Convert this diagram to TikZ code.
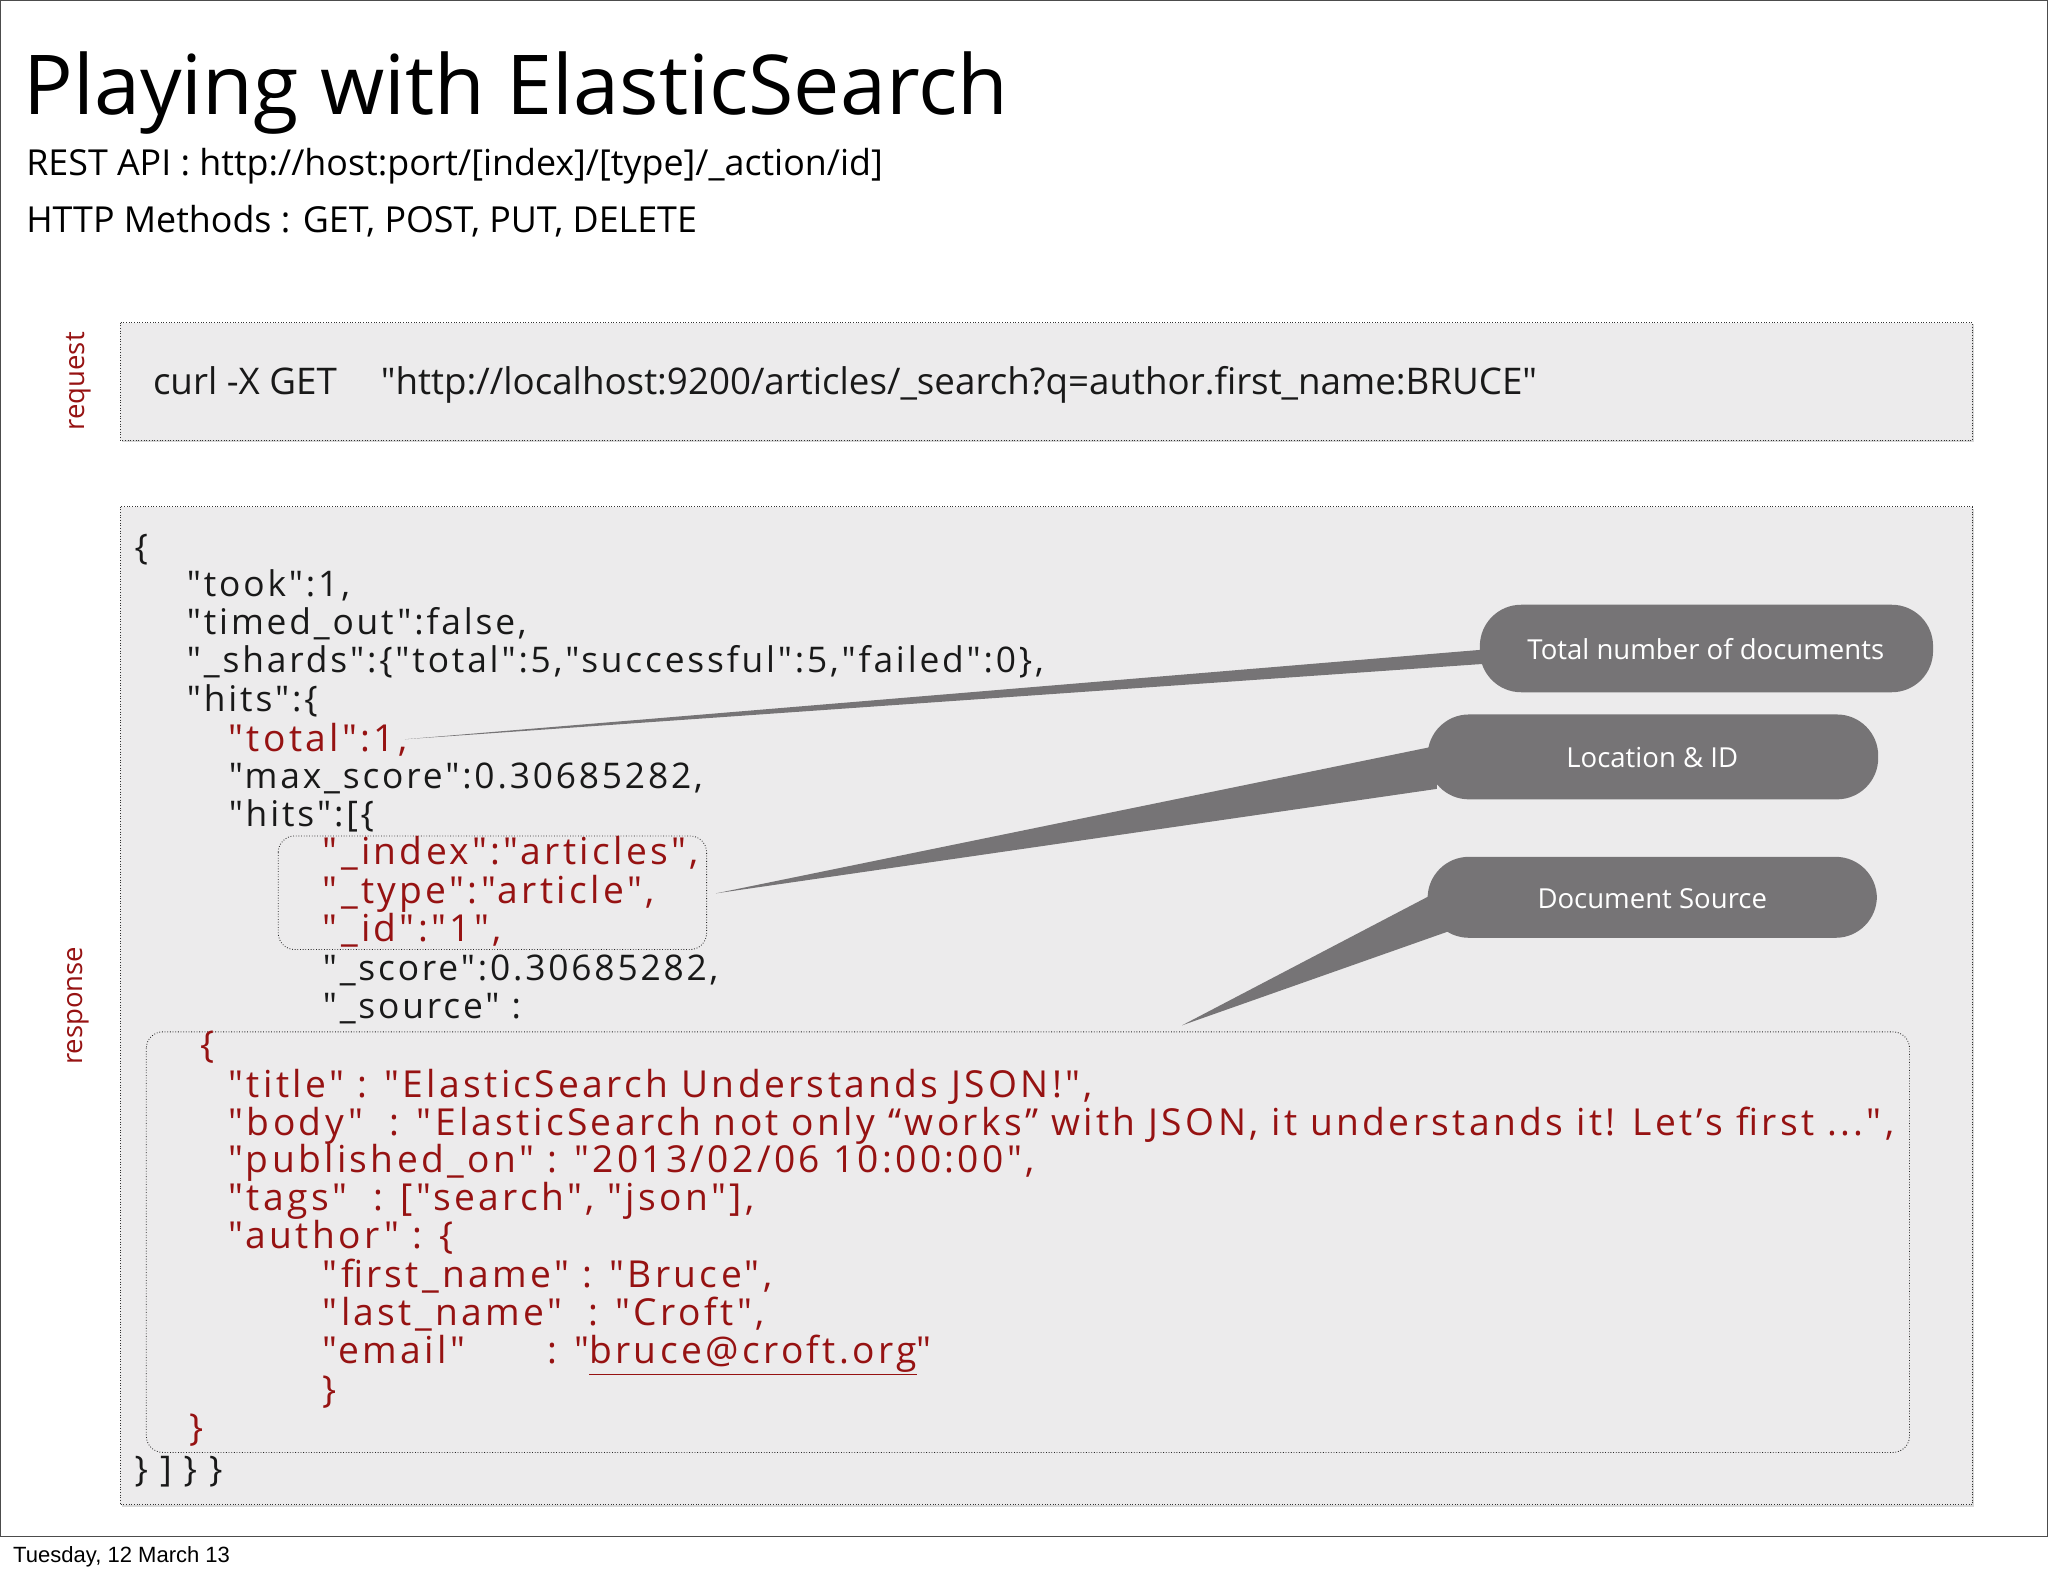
\documentclass[tikz,border=0pt]{standalone}
\usepackage{fontspec}
\setmainfont{Open Sans}
\newfontfamily\codefont[LetterSpace=8]{Open Sans}
\newfontfamily\rcodefont[LetterSpace=9]{Open Sans}
\usetikzlibrary{shadows}
\definecolor{jred}{RGB}{150,18,18}
\definecolor{boxfill}{RGB}{236,235,236}
\definecolor{pill}{RGB}{118,116,118}
\definecolor{txt}{RGB}{25,25,25}
\tikzset{
  codebox/.style={draw=black!80, dotted, line width=0.9pt, fill=boxfill, drop shadow={opacity=0.3,shadow xshift=2pt,shadow yshift=-2pt}},
  grp/.style={draw=black!85, dotted, line width=0.9pt, rounded corners=18pt},
  code/.style={anchor=base west, inner sep=0, font=\codefont\fontsize{38.5}{40}\selectfont, text=txt},
  rcode/.style={anchor=base west, inner sep=0, font=\rcodefont\fontsize{40.5}{40}\selectfont, text=jred},
  pillbox/.style={fill=pill, rounded corners=45pt, draw=none},
  pilltext/.style={text=white, font=\fontsize{30}{30}\selectfont},
  wedge/.style={fill=pill, draw=none},
  side/.style={rotate=90, text=jred, font=\fontsize{30}{30}\selectfont},
}
\begin{document}
\begin{tikzpicture}[x=0.5mm,y=-0.5mm]
\useasboundingbox (0,0) rectangle (1568,1207);
\fill[white] (0,0) rectangle (1568,1207);
\draw[black!70, line width=1pt] (0.5,0.5) rectangle (1567.5,1176);
\node[anchor=base west, inner sep=0] (foot) at (10,1196) {\fontspec{Liberation Sans}\fontsize{24}{24}\selectfont Tuesday, 12 March 13};
\node[anchor=base west, inner sep=0, font=\fontsize{90}{90}\selectfont] (title) at (18,88) {Playing with ElasticSearch};
\node[anchor=base west, inner sep=0, font=\fontsize{39}{40}\selectfont] (rest) at (20,134) {REST API : http://host:port/[index]/[type]/\_action/id]};
\node[anchor=base west, inner sep=0, font=\fontsize{39}{40}\selectfont] (http) at (20,178) {HTTP Methods : GET, POST, PUT, DELETE};
% request
\draw[codebox] (92,247) rectangle (1510,337);
\node[side] (reqlab) at (60,292) {request};
\node[anchor=base west, inner sep=0, font=\fontsize{40}{40}\selectfont, text=txt] (curl) at (117,302) {curl -X GET\hspace{1.2em}\textquotedbl http://localhost:9200/articles/\_search?q=author.first\_name:BRUCE\textquotedbl};
% response
\draw[codebox] (92,388) rectangle (1510,1152);
\node[side] (reslab) at (60,770) {response};
\draw[grp] (213,640) rectangle (541,727);
\draw[grp] (112,790) rectangle (1462,1112);
% code lines
\node[code] (l1) at (103,428) {\{};
\node[code] (l2) at (143,457) {"took":1,};
\node[code] (l3) at (143,486) {"timed\_out":false,};
\node[code] (l4) at (143,515) {"\_shards":\{"total":5,"successful":5,"failed":0\},};
\node[code] (l5) at (143,545) {"hits":\{};
\node[rcode] (l6) at (175,575) {"total":1,};
\node[code] (l7) at (175,604) {"max\_score":0.30685282,};
\node[code] (l8) at (175,633) {"hits":[\{};
\node[rcode] (l9) at (247,662) {"\_index":"articles",};
\node[rcode] (l10) at (247,692) {"\_type":"article",};
\node[rcode] (l11) at (247,721) {"\_id":"1",};
\node[code] (l12) at (247,751) {"\_score":0.30685282,};
\node[code] (l13) at (247,780) {"\_source" :};
\node[rcode] (l14) at (153,810) {\{};
\node[rcode] (l15) at (175,840) {"title" : "ElasticSearch Understands JSON!",};
\node[rcode] (l16) at (175,869) {"body"\ \ : "ElasticSearch not only “works” with JSON, it understands it! Let’s first ...",};
\node[rcode] (l17) at (175,898) {"published\_on" : "2013/02/06 10:00:00",};
\node[rcode] (l18) at (175,927) {"tags"\ \ : ["search", "json"],};
\node[rcode] (l19) at (175,956) {"author" : \{};
\node[rcode] (l20) at (247,986) {"first\_name" : "Bruce",};
\node[rcode] (l21) at (247,1015) {"last\_name"\ \ : "Croft",};
\node[rcode] (l22) at (247,1044) {"email"\hspace{2.2em}: "\underline{bruce@croft.org}"};
\node[rcode] (l23) at (247,1074) {\}};
\node[rcode] (l24) at (145,1103) {\}};
\node[code] (l25) at (103,1134) {\} ] \} \}};
% callouts
\coordinate (t1) at (310,566);
\coordinate (t2) at (548,684);
\coordinate (t3) at (905,785);
\fill[wedge] (t1) -- (1140,497) -- (1140,508) -- cycle;
\fill[wedge] (t2) -- (1100,571) -- (1100,604) -- cycle;
\fill[wedge] (t3) -- (1100,683) -- (1112,712) -- cycle;
\fill[pillbox] (1133,463) rectangle (1480,530);
\fill[pillbox] (1093,547) rectangle (1438,612);
\fill[pillbox] (1093,656) rectangle (1437,718);
\node[pilltext] (p1) at (1306,497) {Total number of documents};
\node[pilltext] (p2) at (1265,580) {Location \& ID};
\node[pilltext] (p3) at (1265,688) {Document Source};
\end{tikzpicture}
\end{document}
